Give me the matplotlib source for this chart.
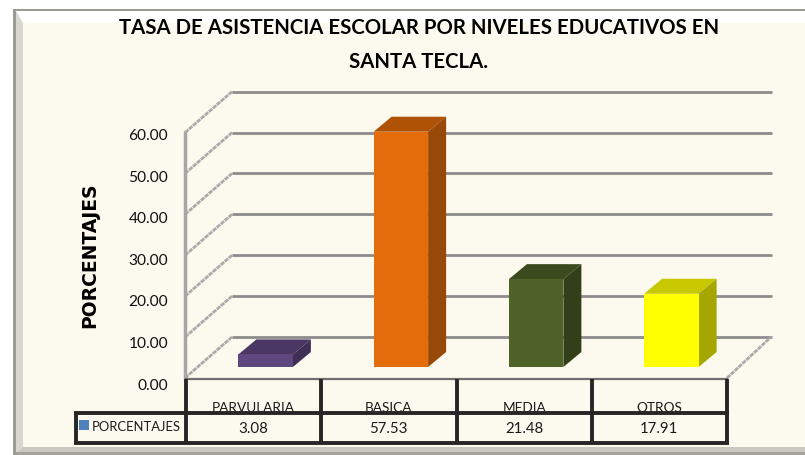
import matplotlib
matplotlib.use("Agg")
import matplotlib.pyplot as plt
from matplotlib.patches import Polygon, Rectangle

categories = ["PARVULARIA", "BASICA", "MEDIA", "OTROS"]
values = [3.08, 57.53, 21.48, 17.91]
value_labels = ["3.08", "57.53", "21.48", "17.91"]
yticks = [0, 10, 20, 30, 40, 50, 60]
series_name = "PORCENTAJES"
title = "TASA DE ASISTENCIA ESCOLAR POR NIVELES EDUCATIVOS EN\nSANTA TECLA."
ylabel = "PORCENTAJES"
front_colors = ["#5F4880", "#E46C0A", "#4F6228", "#FFFF00"]
top_colors = ["#4A3763", "#AF5206", "#3C4B1E", "#C8C800"]
side_colors = ["#3F2E55", "#984807", "#323F19", "#A6A600"]

W, H = 805, 456
BG = "#FCF9EF"
fig = plt.figure(figsize=(W / 100, H / 100), dpi=100, facecolor="white")
plt.rcParams["font.family"] = ["Lato", "DejaVu Sans"]

# Full-figure axes: x in pixels, y in value units
ax = fig.add_axes([0, 0, 1, 1])
Y0 = 379.0       # pixel row of value 0
PPU = 4.09       # pixels per value unit
X0, CW = 186.0, 135.25  # pixel column of table start, category width


def py(p):
    """pixel row -> data y"""
    return (Y0 - p) / PPU


ax.set_xlim(0, W)
ax.set_ylim(py(H), py(0))
ax.axis("off")

# Frame with bevel
ax.add_patch(Rectangle((13, py(H)), W, py(10) - py(H), fc="#9A9A92", ec="none", zorder=0))
ax.add_patch(Rectangle((16, py(H)), W, py(12) - py(H), fc="#D8D7D0", ec="none", zorder=0.1))
ax.add_patch(Polygon([(16, py(12)), (W, py(12)), (W, py(24)), (23, py(24))], fc="white", ec="none", zorder=0.2))
ax.add_patch(Rectangle((23, py(448)), W, py(24) - py(448), fc=BG, ec="none", zorder=0.3))
ax.add_patch(Polygon([(16, py(H)), (23, py(448)), (W, py(448)), (W, py(H))], fc="#C9C8C0", ec="none", zorder=0.4))
ax.add_patch(Rectangle((16, py(H)), W, py(452.5) - py(H), fc="#A3A39B", ec="none", zorder=0.5))

# Walls
WDX, WDY = 47, 41 / PPU
GRID = "#8C8C8C"
for t in yticks:
    ax.plot([X0 - 1, X0 + WDX - 1], [t, t + WDY], color="#ABABAB", lw=2.0, ls=(0, (1.6, 0.3)), zorder=1,
            solid_capstyle="butt")
    ax.plot([X0 + WDX - 1, 772], [t + WDY, t + WDY], color=GRID, lw=2.0, zorder=1, solid_capstyle="butt")
ax.plot([X0 - 1, X0 - 1], [0, 60], color="#A6A6A6", lw=2.5, zorder=1)
ax.plot([727, 771], [0, WDY], color="#ABABAB", lw=2.0, ls=(0, (1.6, 0.3)), zorder=1)

# 3D bars
BW = 54.5
BDX, BDY = 18.0, 15.0 / PPU
BASE = 11.0 / PPU
BOFF = 12.0
for i, (v, f, t, s) in enumerate(zip(values, front_colors, top_colors, side_colors)):
    c = X0 + CW * (i + 0.5) + BOFF
    l, r = c - BW / 2, c + BW / 2
    b, h = BASE, BASE + v
    ax.add_patch(Polygon([(l, h), (r, h), (r + BDX, h + BDY), (l + BDX, h + BDY)], fc=t, ec="none", zorder=3))
    ax.add_patch(Polygon([(r, b), (r + BDX, b + BDY), (r + BDX, h + BDY), (r, h)], fc=s, ec="none", zorder=3))
    ax.add_patch(Rectangle((l, b), BW, v, fc=f, ec="none", zorder=4))

# Y tick labels and axis title
for t in yticks:
    ax.text(168, t * 1.0167 - 1.6, f"{t:.2f}", ha="right", va="center", fontsize=11.2, color="#111111", zorder=5)
ax.text(90, py(255), ylabel, rotation=90, ha="center", va="center", fontsize=13.5,
        fontweight="bold", family=["DejaVu Sans"], color="black", zorder=5)

# Title
line1, line2 = title.split("\n")
ax.text(419, py(28), line1, ha="center", va="center", fontsize=14.7, fontweight="bold", color="black", zorder=5)
ax.text(419, py(62), line2, ha="center", va="center", fontsize=14.7, fontweight="bold", color="black", zorder=5)

# Data table
LINE = "#262626"
for i, (cat, lab) in enumerate(zip(categories, value_labels)):
    cx = X0 + CW * (i + 0.5)
    ax.text(cx, py(412.5), cat, ha="center", va="baseline", fontsize=9.8, color="#1A1A1A", zorder=5)
    ax.text(cx, py(429), lab, ha="center", va="center", fontsize=10.8, color="#1A1A1A", zorder=5)
ax.plot([X0, 727], [py(380), py(380)], color="#6E6E6E", lw=1.6, zorder=6)
for p in (413.5, 444):
    ax.plot([74, 728.5], [py(p), py(p)], color=LINE, lw=2.8, zorder=6, solid_capstyle="butt")
for i in range(5):
    x = X0 + CW * i
    ax.plot([x, x], [py(380), py(444)], color=LINE, lw=2.8, zorder=6, solid_capstyle="butt")
ax.plot([75.5, 75.5], [py(413), py(445)], color=LINE, lw=2.8, zorder=6, solid_capstyle="butt")
ax.add_patch(Rectangle((79, py(431)), 10, 10 / PPU, fc="#4F81BD", ec="none", zorder=6))
ax.text(92, py(427), series_name, ha="left", va="center", fontsize=9.4, color="#1A1A1A", zorder=6)

fig.savefig("out.png", dpi=100, facecolor="white")
